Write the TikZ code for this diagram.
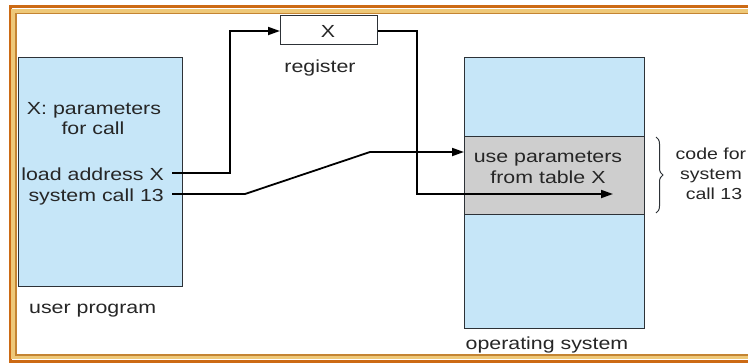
\documentclass[tikz,border=0pt]{standalone}
\usepackage{fontspec}
\setmainfont{Liberation Sans}[FakeStretch=1.22]
\usetikzlibrary{arrows.meta,decorations.pathreplacing,calc}
\definecolor{lblue}{RGB}{198,230,248}
\definecolor{lgray}{RGB}{206,206,206}
\definecolor{edge}{RGB}{45,50,55}
\definecolor{frameA}{RGB}{204,106,20}
\definecolor{frameB}{RGB}{238,200,120}
\definecolor{frameC}{RGB}{196,132,50}
\begin{document}
\begin{tikzpicture}[x=1pt,y=-1pt,
  txt/.style={font=\fontsize{17.5}{20}\selectfont, inner sep=0pt, anchor=base, text=black!85},
  stxt/.style={txt, font=\fontsize{16}{18}\selectfont},
  blk/.style={draw=edge, line width=1.2pt},
  conn/.style={draw=black, line width=1.8pt},
  arr/.style={conn, -{Triangle[length=12pt,width=8pt]}}]
\useasboundingbox (0,0) rectangle (748,362);
\fill[white] (0,0) rectangle (748,362);
% frame
\draw[frameA, line width=3pt] (10.5,6.5) rectangle (780,361);
\draw[frameB, line width=4pt] (13,10.5) rectangle (780,357);
\draw[frameC, line width=1.5pt] (16,13.5) rectangle (780,355);
% boxes
\node[blk, fill=lblue, minimum width=164pt, minimum height=229pt, inner sep=0pt, anchor=north west] (user) at (18,57) {};
\node[blk, fill=lblue, minimum width=180pt, minimum height=271pt, inner sep=0pt, anchor=north west] (os) at (464,57) {};
\node[blk, fill=lgray, minimum width=180pt, minimum height=78pt, inner sep=0pt, anchor=north west] (code) at (464,136) {};
\node[blk, fill=white, minimum width=97pt, minimum height=29pt, inner sep=0pt, anchor=north west] (reg) at (280,15) {};
% texts
\node[txt] (xreg) at (328,37) {X};
\node[txt] (reglbl) at (320,72) {register};
\node[txt] (par1) at (94,114) {X: parameters};
\node[txt] (par2) at (93,134) {for call};
\node[txt, anchor=base east] (load) at (164,180) {load address X};
\node[txt, anchor=base east] (sys) at (164,201) {system call 13};
\node[txt, anchor=base west] (ulbl) at (29,313) {user program};
\node[txt] (oslbl) at (547,349) {operating system};
\node[txt] (use1) at (548,162) {use parameters};
\node[txt] (use2) at (548,183) {from table X};
\node[stxt] (cf1) at (711,159) {code for};
\node[stxt] (cf2) at (711,179) {system};
\node[stxt] (cf3) at (714,199) {call 13};
% brace
\coordinate (bt) at (656,137);
\coordinate (bb) at (656,213);
\draw[edge, line width=1pt, decorate, decoration={brace, amplitude=7pt}] (bt) -- (bb);
% connectors
\coordinate (ls) at (172,173);
\coordinate (ss) at (172,194);
\coordinate (tgt) at (613,194);
\draw[arr] (ls) -| (230,31) -- (reg.west |- 0,31);
\draw[arr] (ss) -- (245,194) -- (370,152) -- (code.west |- 0,152);
\draw[arr] (reg.east |- 0,31) -| (417,194) -- (tgt);
\end{tikzpicture}
\end{document}
